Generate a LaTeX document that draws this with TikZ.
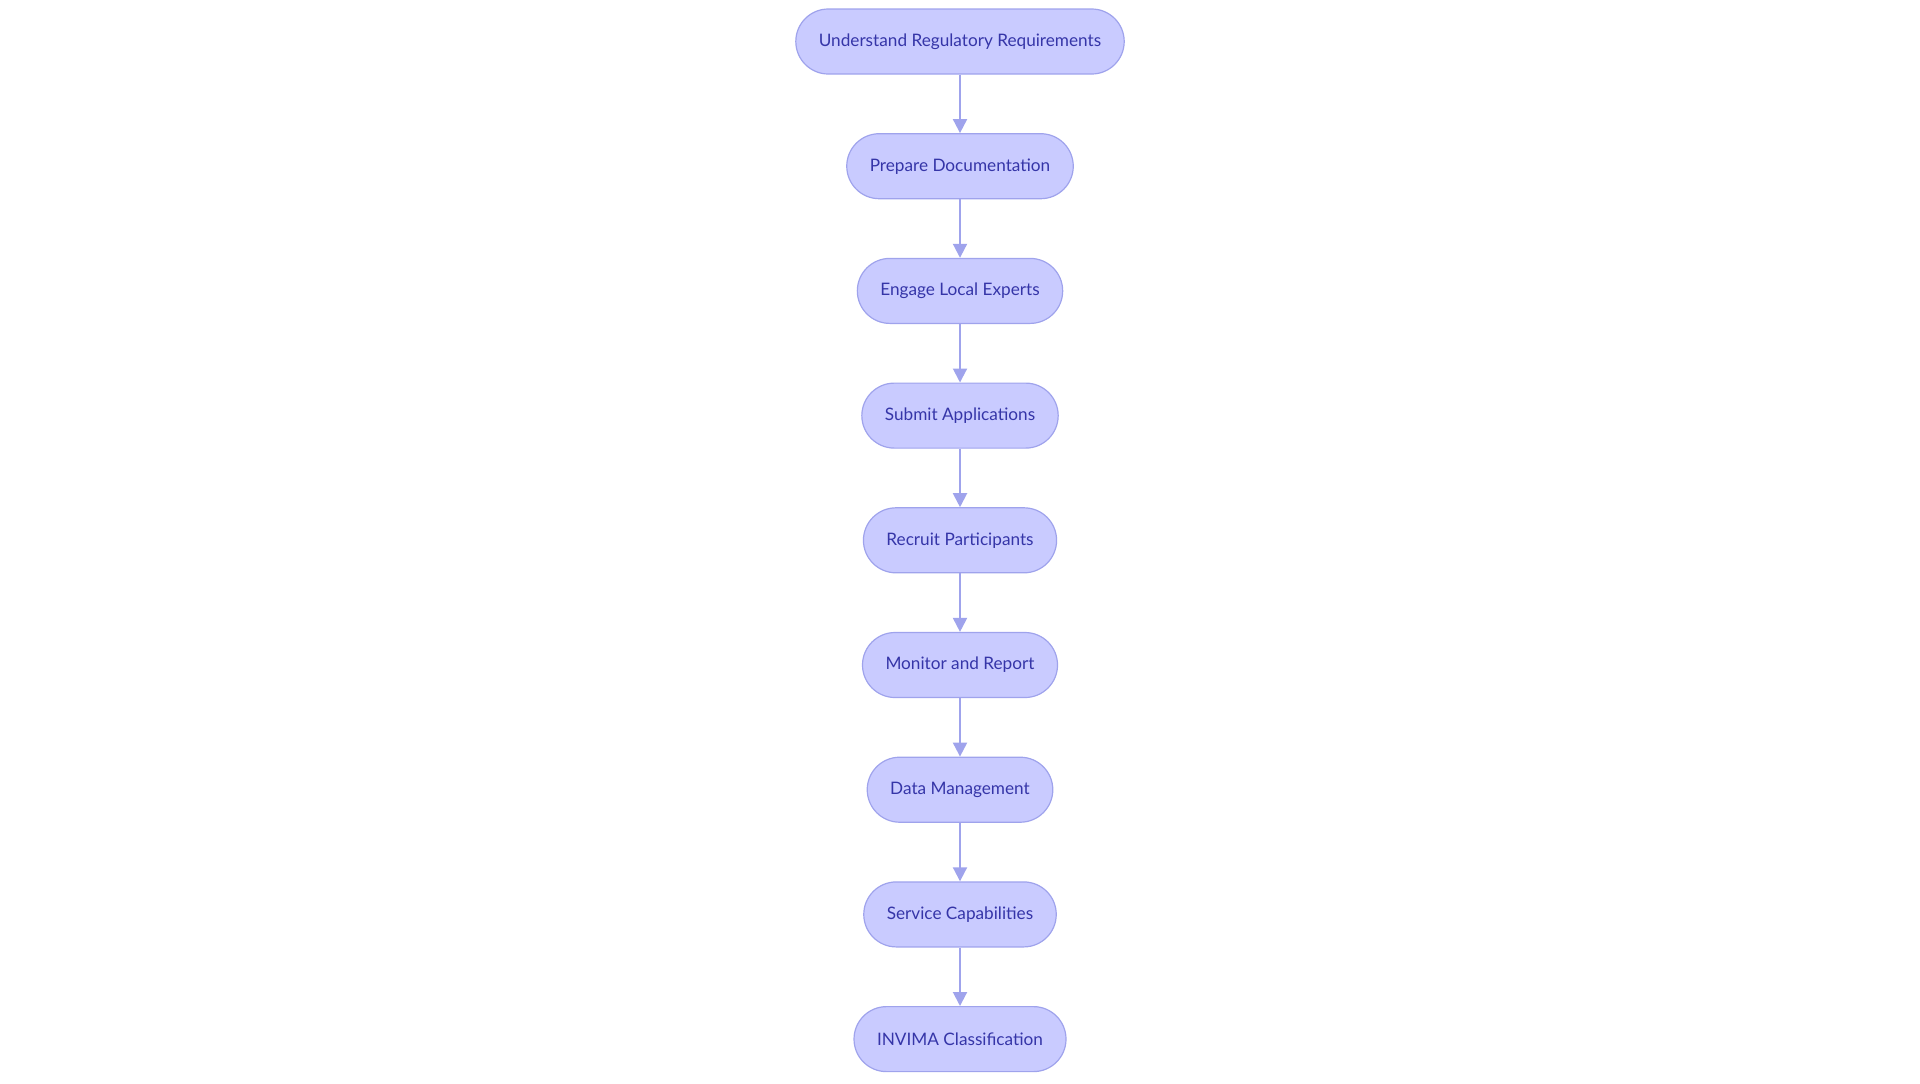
\documentclass[tikz,border=0pt]{standalone}
\usepackage{fontspec}
\setmainfont{Lato}
\usetikzlibrary{positioning}
\usetikzlibrary{arrows.meta}
\tikzset{>={Triangle[length=7pt,width=7pt]}}
\definecolor{stepfill}{HTML}{C9CBFF}
\definecolor{stepline}{HTML}{9FA3EC}
\definecolor{steptext}{HTML}{3535A8}
\tikzset{stage/.style={draw=stepline,fill=stepfill,text=steptext,line width=0.6pt,rounded corners=16.25pt,minimum height=32.5pt,inner xsep=11.5pt,font=\fontsize{8.6pt}{10pt}\selectfont}}

\begin{document}
\begin{tikzpicture}[node distance=29.25pt]
			\useasboundingbox (0,0) rectangle (960pt,-541.5pt);
			\node[stage] (U) at (480pt,-20.75pt) {Understand Regulatory Requirements};
			\node[stage,below=of U] (P) {Prepare Documentation};
			\node[stage,below=of P] (E) {Engage Local Experts};
			\node[stage,below=of E] (S) {Submit Applications};
			\node[stage,below=of S] (R) {Recruit Participants};
			\node[stage,below=of R] (M) {Monitor and Report};
			\node[stage,below=of M] (D) {Data Management};
			\node[stage,below=of D] (C) {Service Capabilities};
			\node[stage,below=of C] (I) {INVIMA Classification};
			\foreach \a/\b in {U/P,P/E,E/S,S/R,R/M,M/D,D/C,C/I}
				\draw[stepline,line width=1pt,->] (\a)--(\b);
		\end{tikzpicture}
\end{document}
